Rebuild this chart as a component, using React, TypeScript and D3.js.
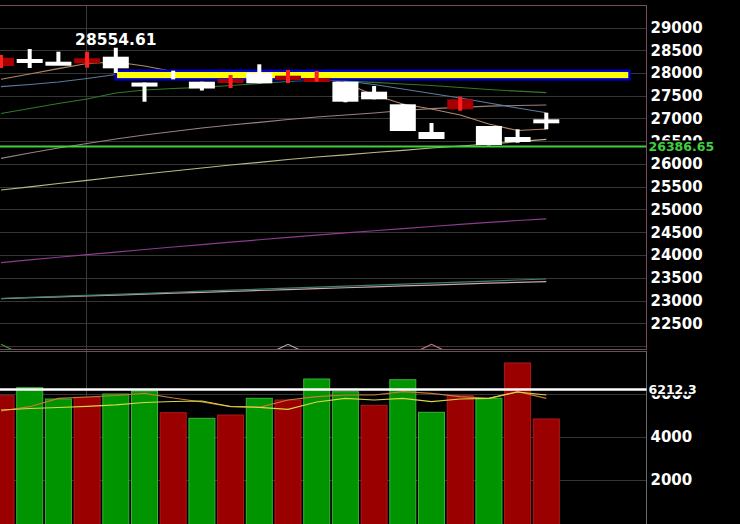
import React, { useEffect, useRef } from "react";
import * as d3 from "d3";

// candles (20 sessions)
const opens = [28154, 28308, 28248, 28213, 28358, 27790, 27950, 27809, 27780, 28007, 27846, 27824, 27809, 27589, 27312, 26703, 27202, 26835, 26593, 26982];
const highs = [28396, 28527, 28468, 28468, 28554.61, 27790, 28051, 27809, 27956, 28191, 28066, 28044, 27809, 27714, 27320, 26901, 27479, 26835, 26763, 27127];
const lows = [28110, 28110, 28242, 28116, 28000, 27369, 27861, 27615, 27670, 27774, 27780, 27809, 27356, 27422, 26725, 26549, 27171, 26410, 26469, 26763];
const closes = [28336, 28300, 28242, 28323, 28103, 27784, 27950, 27659, 27868, 27774, 27941, 27890, 27369, 27422, 26725, 26549, 27422, 26418, 26484, 26975];

// volume
const volumes = [5921, 6293, 5767, 5846, 6000, 6139, 5130, 4870, 5023, 5800, 5721, 6698, 6107, 5474, 6665, 5149, 5921, 5800, 7442, 4837];
const volUp = [false, true, true, false, true, true, false, true, false, true, false, true, true, false, true, true, false, true, false, false];
const volMaA = [5209, 5409, 5800, 5860, 5930, 6033, 5814, 5628, 5409, 5381, 5721, 5874, 5953, 5953, 6107, 6033, 5874, 5800, 6107, 5800];
const volMaB = [5256, 5325, 5372, 5428, 5498, 5605, 5651, 5674, 5419, 5381, 5288, 5628, 5800, 5721, 5800, 5642, 5767, 5800, 6093, 5953];
const lastVolume = 6212.3;

// moving averages on price
const ma5 = [27863, 27978, 28095, 28209, 28242, 28154, 28033, 27967, 27901, 27912, 27934, 27923, 27774, 27516, 27319, 27209, 27077, 26879, 26736, 26769];
const ma10 = [27699, 27747, 27802, 27879, 27967, 27956, 27934, 27912, 27890, 27879, 27879, 27868, 27824, 27747, 27648, 27549, 27451, 27341, 27231, 27127];
const ma20 = [27110, 27220, 27330, 27429, 27560, 27626, 27659, 27686, 27725, 27769, 27813, 27846, 27824, 27796, 27758, 27725, 27681, 27637, 27600, 27567];
const ma60 = [26125, 26242, 26352, 26451, 26549, 26637, 26714, 26791, 26857, 26916, 26978, 27033, 27077, 27121, 27176, 27216, 27246, 27270, 27286, 27297];
const ma120 = [25429, 25499, 25571, 25642, 25714, 25780, 25846, 25912, 25978, 26037, 26099, 26154, 26202, 26253, 26301, 26352, 26396, 26440, 26490, 26543];
const ma250 = [23831, 23891, 23950, 24008, 24065, 24121, 24176, 24230, 24283, 24335, 24386, 24436, 24485, 24533, 24580, 24626, 24671, 24715, 24758, 24795];
const maTeal = [23044, 23067, 23090, 23113, 23136, 23158, 23181, 23204, 23226, 23249, 23271, 23294, 23316, 23338, 23361, 23383, 23405, 23428, 23450, 23473];
const maPale = [23040, 23060, 23080, 23100, 23120, 23140, 23160, 23180, 23200, 23220, 23240, 23260, 23280, 23300, 23320, 23340, 23360, 23380, 23398, 23413];
// short lines that only peek above the panel bottom
const lowGreen = [22040, 21725, null, null, null, null, null, null, null, null, null, null, null, null, null, null, null, null, null, null];
const lowGray = [null, null, null, null, null, null, null, null, null, 21736, 22037, 21736, null, null, null, null, null, null, null, null];
const lowPink = [null, null, null, null, null, null, null, null, null, null, null, null, null, null, 21736, 22037, 21736, null, null, null];

const lastPrice = 26386.65;
const zone = { from: 4, to: 21.9, high: 28050, low: 27860 };

const priceTicks = [22500, 23000, 23500, 24000, 24500, 25000, 25500, 26000, 26500, 27000, 27500, 28000, 28500, 29000];
const priceGrid = [22000, ...priceTicks];
const volTicks = [2000, 4000, 6000];

export default function App() {
  const ref = useRef<SVGSVGElement>(null);

  useEffect(() => {
    const width = 740;
    const height = 524;
    const plotRight = 646.5;
    const font = "'DejaVu Sans', Verdana, sans-serif";

    const svg = d3.select(ref.current);
    svg.selectAll("*").remove();
    svg.attr("width", width).attr("height", height);

    svg.append("rect").attr("width", width).attr("height", height).attr("fill", "#000");

    const x = d3.scaleLinear([0, 19], [1, 546.3]);
    const y = d3.scaleLinear([22000, 29000], [346, 27.5]);
    const yv = d3.scaleLinear([0, 6000], [523, 394]);
    const idx = d3.range(opens.length);

    svg.append("clipPath").attr("id", "pricePanel")
      .append("rect").attr("x", 0).attr("y", 6).attr("width", plotRight).attr("height", 343);

    // grid
    svg.append("g").selectAll("line").data(priceGrid).join("line")
      .attr("x1", 0).attr("x2", plotRight)
      .attr("y1", (d) => Math.round(y(d)) + 0.5).attr("y2", (d) => Math.round(y(d)) + 0.5)
      .attr("stroke", "#353535");
    svg.append("g").selectAll("line").data(volTicks).join("line")
      .attr("x1", 0).attr("x2", plotRight)
      .attr("y1", (d) => Math.round(yv(d)) + 0.5).attr("y2", (d) => Math.round(yv(d)) + 0.5)
      .attr("stroke", "#353535");
    svg.append("line").attr("x1", 86.5).attr("x2", 86.5).attr("y1", 6).attr("y2", height)
      .attr("stroke", "#3a3a3a");

    // panel borders
    svg.append("rect").attr("x", -2).attr("y", 5.5).attr("width", plotRight + 2).attr("height", 344)
      .attr("fill", "none").attr("stroke", "#7a4c5a");
    svg.append("line").attr("x1", 0).attr("x2", plotRight).attr("y1", 351.5).attr("y2", 351.5)
      .attr("stroke", "#5a5a5a");
    svg.append("line").attr("x1", plotRight).attr("x2", plotRight).attr("y1", 351).attr("y2", height)
      .attr("stroke", "#6a6a6a");

    const price = svg.append("g").attr("clip-path", "url(#pricePanel)");

    const line = d3.line<number | null>()
      .defined((d) => d != null)
      .x((_, i) => x(i))
      .y((d) => y(d as number));

    const maLines: [(number | null)[], string][] = [
      [maPale, "#c8a8a8"],
      [maTeal, "#3f7f70"],
      [ma250, "#8e3a8e"],
      [ma120, "#b8b888"],
      [ma60, "#9a8080"],
      [ma20, "#2f7a2f"],
      [ma10, "#5a7aa0"],
      [ma5, "#b08868"],
      [lowGreen, "#3f9a3f"],
      [lowGray, "#aaaaaa"],
      [lowPink, "#c08080"],
    ];
    maLines.forEach(([data, color]) => {
      price.append("path").attr("d", line(data)).attr("fill", "none")
        .attr("stroke", color).attr("stroke-width", 1.2);
    });

    // last price line
    price.append("line").attr("x1", 0).attr("x2", plotRight)
      .attr("y1", y(lastPrice)).attr("y2", y(lastPrice))
      .attr("stroke", "#3fd03f").attr("stroke-width", 2);

    // highlighted zone
    price.append("rect")
      .attr("x", x(zone.from)).attr("y", y(zone.high))
      .attr("width", x(zone.to) - x(zone.from)).attr("height", y(zone.low) - y(zone.high))
      .attr("fill", "#ffff00").attr("stroke", "#0000c8").attr("stroke-width", 2.5);

    // candles
    const bodyW = 26;
    const isRed = (i: number) => closes[i] > opens[i];
    const candles = price.append("g").selectAll("g").data(idx).join("g");
    candles.filter((i) => opens[i] !== closes[i]).append("rect")
      .attr("x", (i) => x(i) - bodyW / 2)
      .attr("y", (i) => y(Math.max(opens[i], closes[i])))
      .attr("width", bodyW)
      .attr("height", (i) => Math.max(4, Math.abs(y(opens[i]) - y(closes[i]))))
      .attr("fill", (i) => (isRed(i) ? "#a80000" : "#ffffff"));
    candles.append("rect")
      .attr("x", (i) => x(i) - 2)
      .attr("y", (i) => y(highs[i]))
      .attr("width", 4)
      .attr("height", (i) => Math.max(1, y(lows[i]) - y(highs[i])))
      .attr("fill", (i) => (isRed(i) ? "#ff2020" : "#ffffff"));

    // high label
    const hi = d3.maxIndex(highs);
    svg.append("text").attr("x", x(hi)).attr("y", y(highs[hi]) - 3)
      .attr("text-anchor", "middle").attr("fill", "#fff")
      .attr("font-family", font).attr("font-weight", "bold").attr("font-size", 15.5)
      .text(d3.format(".2f")(highs[hi]));

    // volume bars
    const bw = 27;
    svg.append("g").selectAll("rect").data(idx).join("rect")
      .attr("x", (i) => x(i) - bw / 2 + 0.5)
      .attr("y", (i) => yv(volumes[i]))
      .attr("width", bw - 1)
      .attr("height", (i) => yv(0) - yv(volumes[i]) + 2)
      .attr("fill", (i) => (volUp[i] ? "#009400" : "#9a0000"))
      .attr("stroke", (i) => (volUp[i] ? "#3cb03c" : "#b01818"))
      .attr("stroke-width", 1);

    const vline = d3.line<number>().x((_, i) => x(i)).y((d) => yv(d));
    svg.append("path").attr("d", vline(volMaA)).attr("fill", "none").attr("stroke", "#c87a3a").attr("stroke-width", 1.2);
    svg.append("path").attr("d", vline(volMaB)).attr("fill", "none").attr("stroke", "#d8d848").attr("stroke-width", 1.2);

    svg.append("line").attr("x1", 0).attr("x2", plotRight)
      .attr("y1", yv(lastVolume)).attr("y2", yv(lastVolume))
      .attr("stroke", "#fff").attr("stroke-width", 2.5);

    // right axes
    const styleAxis = (g: d3.Selection<SVGGElement, unknown, null, undefined>) => {
      g.select(".domain").remove();
      g.selectAll(".tick line").remove();
      g.selectAll(".tick text")
        .attr("fill", "#fff").attr("font-family", font)
        .attr("font-weight", "bold").attr("font-size", 15);
    };
    svg.append("g").attr("transform", `translate(${plotRight},0)`)
      .call(d3.axisRight(y).tickValues(priceTicks).tickFormat(d3.format("d")).tickSize(0).tickPadding(4))
      .call(styleAxis);
    svg.append("g").attr("transform", `translate(${plotRight},0)`)
      .call(d3.axisRight(yv).tickValues(volTicks).tickFormat(d3.format("d")).tickSize(0).tickPadding(4))
      .call(styleAxis);

    // current value tags
    const tag = (yy: number, label: string, color: string, top: number, bottom: number) => {
      svg.append("rect").attr("x", plotRight + 1).attr("y", yy - top).attr("width", 90).attr("height", top + bottom)
        .attr("fill", "#000");
      svg.append("text").attr("x", plotRight + 2).attr("y", yy).attr("dy", "0.36em")
        .attr("fill", color).attr("font-family", font).attr("font-weight", "bold").attr("font-size", 12.5)
        .text(label);
    };
    tag(y(lastPrice), d3.format(".2f")(lastPrice), "#3fd03f", 6, 7);
    tag(yv(lastVolume), d3.format(".1f")(lastVolume), "#fff", 7, 6);
  }, []);

  return (
    <svg ref={ref} style={{ position: "absolute", left: 0, top: 0, display: "block" }} />
  );
}
